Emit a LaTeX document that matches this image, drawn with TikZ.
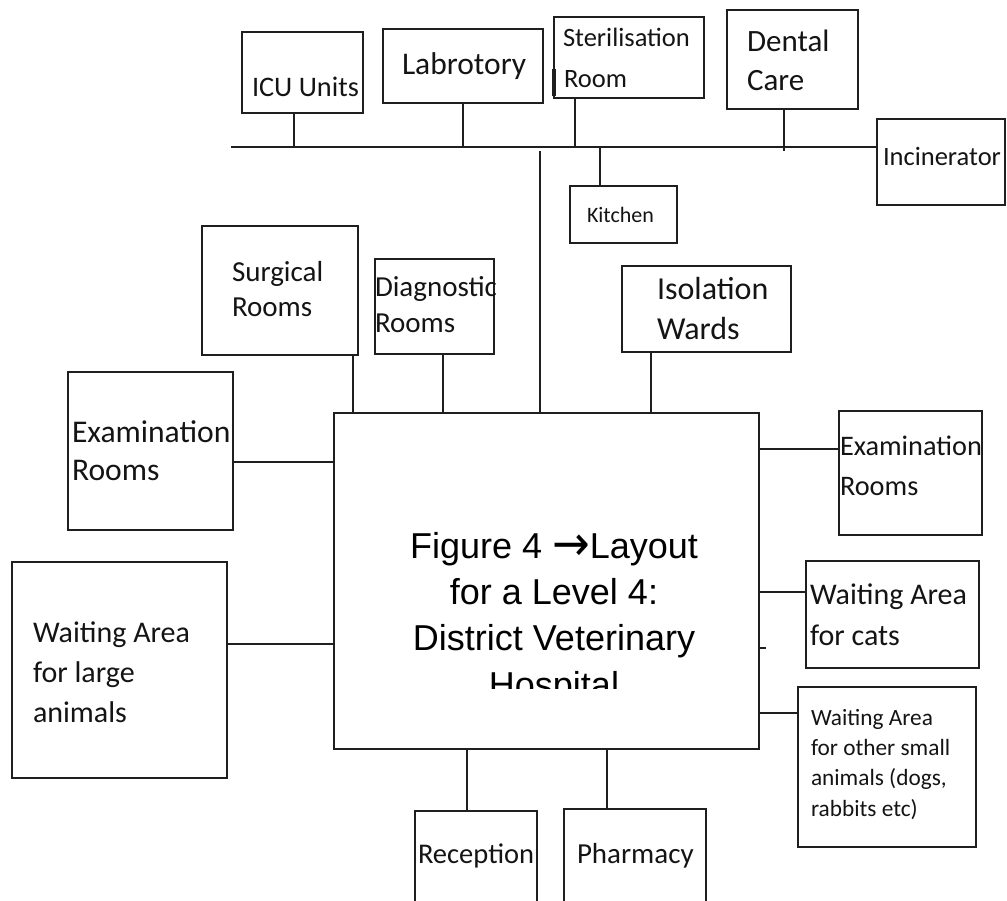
\documentclass[tikz,border=0pt]{standalone}
\usepackage{fontspec}
\newfontfamily\roomfont{Carlito}
\newfontfamily\titlefont{Liberation Sans}
\newfontfamily\arrowfont{DejaVu Sans}
\begin{document}
\begin{tikzpicture}[x=1pt,y=-1pt,
  ink/.style={line width=1.6pt, draw=black!88},
  room/.style={ink, rectangle, inner sep=0pt, outer sep=0pt},
  link/.style={ink, line cap=rect},
  lbl/.style={anchor=base west, inner sep=0pt, outer sep=0pt, text=black!92},
  ttl/.style={anchor=base, inner sep=0pt, outer sep=0pt, text=black,
    font=\titlefont\fontsize{36}{44}\selectfont}]
\newcommand\roombox[5]{%
  \node[room, minimum width={(#4-#2)*1pt}, minimum height={(#5-#3)*1pt}]
    (#1) at ({(#2+#4)/2},{(#3+#5)/2}) {};}
\newcommand\fs[1]{\roomfont\fontsize{#1}{#1}\selectfont}
\newcommand\titlearrow{\raisebox{-2pt}{\scalebox{1.25}[1.35]{\arrowfont →}}}

\useasboundingbox (0,0) rectangle (1007,901);
\clip (0,0) rectangle (1007,901);

% ---- service rooms along the top corridor
\roombox{icu}{242}{32}{363}{113}
\roombox{lab}{383}{29}{543}{103}
\roombox{ster}{554}{17}{704}{98}
\roombox{dental}{727}{10}{858}{109}
\roombox{incin}{877}{119}{1005}{205}
\roombox{kitchen}{570}{186}{677}{243}

% ---- rooms above the main block
\roombox{surg}{202}{226}{358}{355}
\roombox{diag}{375}{259}{494}{354}
\roombox{iso}{622}{266}{791}{352}

% ---- main block
\roombox{main}{334}{413}{759}{749}

% ---- left side
\roombox{examL}{68}{372}{233}{530}
\roombox{waitL}{12}{562}{227}{778}

% ---- right side
\roombox{examR}{839}{411}{982}{535}
\roombox{cats}{806}{561}{979}{668}
\roombox{small}{798}{687}{976}{847}

% ---- entrance rooms (running off the bottom edge)
\roombox{recep}{415}{811}{537}{915}
\roombox{pharm}{564}{809}{706}{915}

% ---- labels
\node[lbl, font=\fs{28.3}] (icuT) at (252,97) {ICU Units};
\node[lbl, font=\fs{31.5}] (labT) at (402,75) {Labrotory};
\node[lbl, font=\fs{26.5}] (sterT1) at (563,47) {Sterilisation};
\node[lbl, font=\fs{26.5}] (sterT2) at (564,88) {Room};
\node[lbl, font=\fs{31}] (dentalT1) at (747,52) {Dental};
\node[lbl, font=\fs{31}] (dentalT2) at (747,91) {Care};
\node[lbl, font=\fs{26.5}] (incinT) at (883,166) {Incinerator};
\node[lbl, font=\fs{22}] (kitchenT) at (587,223) {Kitchen};
\node[lbl, font=\fs{29}] (surgT1) at (232,282) {Surgical};
\node[lbl, font=\fs{29}] (surgT2) at (232,317) {Rooms};
\node[lbl, font=\fs{29}] (diagT1) at (375,297) {Diagnostic};
\node[lbl, font=\fs{29}] (diagT2) at (375,333) {Rooms};
\node[lbl, font=\fs{32}] (isoT1) at (657,300) {Isolation};
\node[lbl, font=\fs{32}] (isoT2) at (657,340) {Wards};
\node[lbl, font=\fs{31.6}] (examLT1) at (72,442) {Examination};
\node[lbl, font=\fs{31.6}] (examLT2) at (72,480) {Rooms};
\node[lbl, font=\fs{30}] (waitLT1) at (33,642) {Waiting Area};
\node[lbl, font=\fs{30}] (waitLT2) at (33,682) {for large};
\node[lbl, font=\fs{30}] (waitLT3) at (33,722) {animals};
\node[lbl, font=\fs{28.3}] (examRT1) at (840,455) {Examination};
\node[lbl, font=\fs{28.3}] (examRT2) at (840,495) {Rooms};
\node[lbl, font=\fs{30}] (catsT1) at (810,604) {Waiting Area};
\node[lbl, font=\fs{30}] (catsT2) at (810,645) {for cats};
\node[lbl, font=\fs{23.3}] (smallT1) at (811,725) {Waiting Area};
\node[lbl, font=\fs{23.3}] (smallT2) at (811,755) {for other small};
\node[lbl, font=\fs{23.3}] (smallT3) at (811,785) {animals (dogs,};
\node[lbl, font=\fs{23.3}] (smallT4) at (811,816) {rabbits etc)};
\node[lbl, font=\fs{28.5}] (recepT) at (418,863) {Reception};
\node[lbl, font=\fs{29}] (pharmT) at (577,863) {Pharmacy};

% ---- title inside the main block (last line cut by the frame)
\begin{scope}
  \clip (334,413) rectangle (759,688);
  \node[ttl] (title1) at (554,558) {Figure 4 \titlearrow Layout};
  \node[ttl] (title2) at (554,604) {for a Level 4:};
  \node[ttl] (title3) at (554,650) {District Veterinary};
  \node[ttl] (title4) at (554,697) {Hospital};
\end{scope}

% ---- corridor
\coordinate (busW) at (232,147);
\draw[link] (busW) -- (incin.west |- busW);
\draw[ink, line width=2.6pt] (420,147) -- (449,147);
\draw[ink, line width=3.2pt] ([yshift=2pt]ster.south west) -- ([yshift=29pt]ster.south west);

\coordinate (icuC) at ([xshift=52pt]icu.south west);
\coordinate (labC) at ([xshift=80pt]lab.south west);
\coordinate (sterC) at ([xshift=21pt]ster.south west);
\coordinate (dentalC) at ([xshift=57pt]dental.south west);
\coordinate (kitC) at ([xshift=30pt]kitchen.north west);
\coordinate (spine) at ([xshift=206pt]main.north west);
\draw[link] (icuC) -- (icuC |- busW);
\draw[link] (labC) -- (labC |- busW);
\draw[link] (sterC) -- (sterC |- busW);
\draw[link] (dentalC) -- ([yshift=-3pt]dentalC |- busW);
\draw[link] (kitC |- busW) -- (kitC);
\draw[link] ([yshift=-5pt]spine |- busW) -- (spine);

% ---- rooms above the main block
\coordinate (surgC) at ([xshift=-5pt]surg.south east);
\coordinate (diagC) at ([xshift=68pt]diag.south west);
\coordinate (isoC) at ([xshift=29pt]iso.south west);
\draw[link] (surgC) -- (surgC |- main.north);
\draw[link] (diagC) -- (diagC |- main.north);
\draw[link] (isoC) -- (isoC |- main.north);

% ---- left side
\coordinate (examLC) at ([yshift=-11pt]examL.east);
\coordinate (waitLC) at ([yshift=26pt]waitL.east);
\draw[link] (examLC) -- (examLC -| main.west);
\draw[link] (waitLC) -- (waitLC -| main.west);

% ---- right side
\coordinate (examRC) at ([yshift=24pt]examR.west);
\coordinate (catsC) at ([yshift=22.5pt]cats.west);
\coordinate (smallC) at ([yshift=54pt]small.west);
\coordinate (stub) at ([yshift=-67pt]main.east);
\draw[link] (examRC -| main.east) -- (examRC);
\draw[link] (catsC -| main.east) -- (catsC);
\draw[link] (smallC -| main.east) -- (smallC);
\draw[link] (stub) -- ++(6,0);

% ---- entrance rooms
\coordinate (recC) at ([xshift=52pt]recep.north west);
\coordinate (pharmC) at ([xshift=43pt]pharm.north west);
\draw[link] (recC |- main.south) -- (recC);
\draw[link] (pharmC |- main.south) -- (pharmC);
\end{tikzpicture}
\end{document}
